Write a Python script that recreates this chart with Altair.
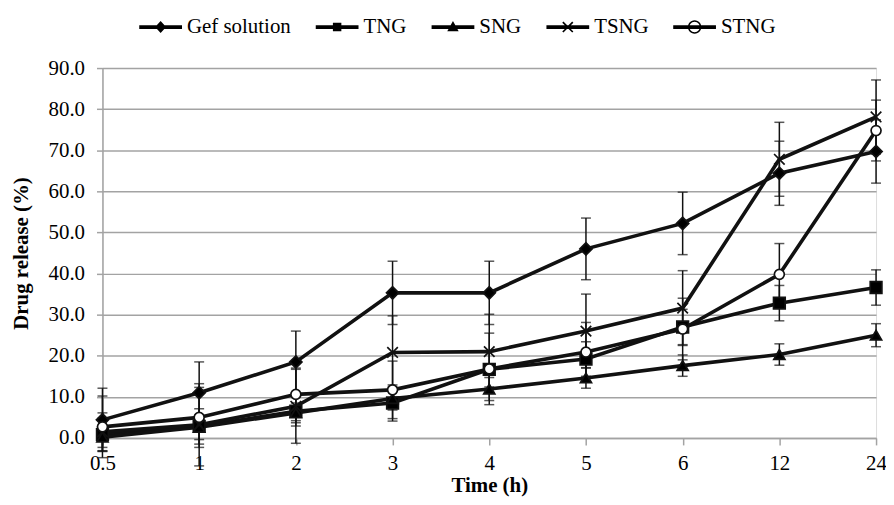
import math
import altair as alt
import pandas as pd

# ---------------- data ----------------
times = ["0.5", "1", "2", "3", "4", "5", "6", "12", "24"]
series = ["Gef solution", "TNG", "SNG", "TSNG", "STNG"]

gef = [4.4, 11.0, 18.5, 35.3, 35.3, 46.0, 52.2, 64.4, 69.7]
gef_err = [7.7, 7.5, 7.5, 7.7, 7.7, 7.5, 7.6, 7.8, 7.7]
tng = [0.8, 2.8, 6.5, 8.5, 16.7, 19.2, 27.0, 32.8, 36.6]
tng_err = [4.0, 4.3, 3.6, 4.4, 4.3, 4.2, 4.3, 4.3, 4.3]
sng = [0.2, 2.6, 6.1, 9.6, 11.9, 14.6, 17.6, 20.3, 25.0]
sng_err = [2.5, 3.0, 2.4, 2.8, 2.8, 2.5, 2.6, 2.6, 2.8]
tsng = [1.5, 3.2, 7.7, 20.8, 21.0, 26.0, 31.6, 67.8, 78.1]
tsng_err = [4.6, 10.0, 9.0, 8.9, 9.1, 9.0, 9.1, 9.0, 9.0]
stng = [2.7, 5.0, 10.6, 11.7, 16.8, 20.9, 26.5, 39.8, 74.8]
stng_err = [7.5, 7.3, 6.4, 7.0, 8.7, 7.2, 7.5, 7.5, 7.4]

values = [gef, tng, sng, tsng, stng]
errors = [gef_err, tng_err, sng_err, tsng_err, stng_err]

rows = []
for s, vals, errs in zip(series, values, errors):
    for t, v, e in zip(times, vals, errs):
        rows.append({"series": s, "time": t, "value": v, "lo": v - e, "hi": v + e})
df = pd.DataFrame(rows)

# ---------------- legend symbol shapes (line + marker) ----------------
def poly(pts, positive=True):
    n = len(pts)
    a = sum(pts[i][0] * pts[(i + 1) % n][1] - pts[(i + 1) % n][0] * pts[i][1] for i in range(n))
    if (a > 0) != positive:
        pts = pts[::-1]
    return "M" + "L".join(f"{x:.3f},{y:.3f}" for x, y in pts) + "Z"

def circ(r, positive=True, n=28):
    return poly([(r * math.cos(2 * math.pi * k / n), r * math.sin(2 * math.pi * k / n)) for k in range(n)], positive)

L, T = 4.3, 0.38
line_p = poly([(-L, -T), (L, -T), (L, T), (-L, T)])
diamond_p = poly([(-1.1, 0), (0, -1.2), (1.1, 0), (0, 1.2)])
square_p = poly([(-0.85, -0.85), (0.85, -0.85), (0.85, 0.85), (-0.85, 0.85)])
tri_p = poly([(0, -1.2), (1.15, 0.85), (-1.15, 0.85)])
d = 0.12
x_p = poly([(-1.0 - d, -1.0 + d), (-1.0 + d, -1.0 - d), (1.0 + d, 1.0 - d), (1.0 - d, 1.0 + d)]) + \
      poly([(-1.0 - d, 1.0 - d), (-1.0 + d, 1.0 + d), (1.0 + d, -1.0 + d), (1.0 - d, -1.0 - d)])
ring_p = circ(1.35, True) + circ(1.05, False)

legend_shapes = [line_p + diamond_p, line_p + square_p, line_p + tri_p, line_p + x_p, line_p + ring_p]

marker_shapes = ["diamond", "square", "triangle-up", "M-1,-1L1,1M-1,1L1,-1", "circle"]
marker_fill = ["black", "black", "black", "black", "white"]
marker_size = [150, 100, 140, 160, 230]

FONT = "Liberation Serif"
GRID = "#a3a3a3"
FS = 21

x_enc = alt.X("time:O", sort=times, scale=alt.Scale(type="point", domain=times, padding=0),
              axis=alt.Axis(title="Time (h)", labelAngle=0, labelFont=FONT, labelFontSize=FS,
                            labelColor="black", labelPadding=8, tickColor=GRID, tickSize=7,
                            tickWidth=1.5, domainColor=GRID, domainWidth=1.5, grid=False,
                            titleFont=FONT, titleFontSize=FS, titleFontWeight="bold",
                            titleColor="black", titleY=54, titleBaseline="alphabetic"))
y_scale = alt.Scale(domain=[0, 90], nice=False, zero=False)
y_enc = alt.Y("value:Q", scale=y_scale,
              axis=alt.Axis(title="Drug release (%)", values=list(range(0, 91, 10)), format=".1f",
                            labelFont=FONT, labelFontSize=FS, labelColor="black", labelPadding=12,
                            tickColor=GRID, tickSize=6, tickWidth=1.5, domainColor=GRID,
                            domainWidth=1.5, gridColor=GRID, gridWidth=1.5,
                            titleFont=FONT, titleFontSize=FS, titleFontWeight="bold",
                            titleColor="black", titleX=-81, titleY=186, titleAngle=-90,
                            titleAlign="center", titleBaseline="middle"))

base = alt.Chart(df)

bars = base.mark_rule(color="#111111", strokeWidth=1.5).encode(
    x=x_enc, y=alt.Y("lo:Q", scale=y_scale), y2="hi:Q", detail="series:N")
cap_lo = base.mark_tick(color="#111111", thickness=1.5, size=10).encode(
    x=x_enc, y=alt.Y("lo:Q", scale=y_scale), detail="series:N")
cap_hi = base.mark_tick(color="#111111", thickness=1.5, size=10).encode(
    x=x_enc, y=alt.Y("hi:Q", scale=y_scale), detail="series:N")

lines = base.mark_line(color="#111111", strokeWidth=3.6).encode(
    x=x_enc, y=y_enc, detail="series:N")

points = base.mark_point(filled=True, stroke="#111111", strokeWidth=1.7, opacity=1).encode(
    x=x_enc, y=y_enc,
    shape=alt.Shape("series:N", scale=alt.Scale(domain=series, range=marker_shapes), legend=None),
    fill=alt.Fill("series:N", scale=alt.Scale(domain=series, range=marker_fill), legend=None),
    size=alt.Size("series:N", scale=alt.Scale(domain=series, range=marker_size), legend=None),
)

legend_layer = base.mark_point(filled=True, color="black", opacity=0, strokeWidth=0).encode(
    x=x_enc, y=y_enc,
    shape=alt.Shape("series:N", sort=series,
                    scale=alt.Scale(domain=series, range=legend_shapes),
                    legend=alt.Legend(orient="none", legendX=48, legendY=-52, direction="horizontal",
                                      columns=5, title=None, labelFont=FONT, labelFontSize=FS,
                                      labelColor="black", labelOffset=16, columnPadding=24.5,
                                      symbolSize=100, symbolOpacity=1, symbolFillColor="black",
                                      symbolStrokeWidth=0, labelLimit=400)),
)

chart = alt.layer(bars, cap_lo, cap_hi, lines, points, legend_layer).resolve_scale(
    shape="independent", fill="independent", size="independent"
).properties(
    width=778, height=372,
    autosize=alt.AutoSizeParams(type="none"),
    padding={"left": 95, "top": 59, "right": 10, "bottom": 58},
).configure_view(stroke=None).configure(background="white")

chart.save("out.html", embed_options={"renderer": "svg", "actions": False})
